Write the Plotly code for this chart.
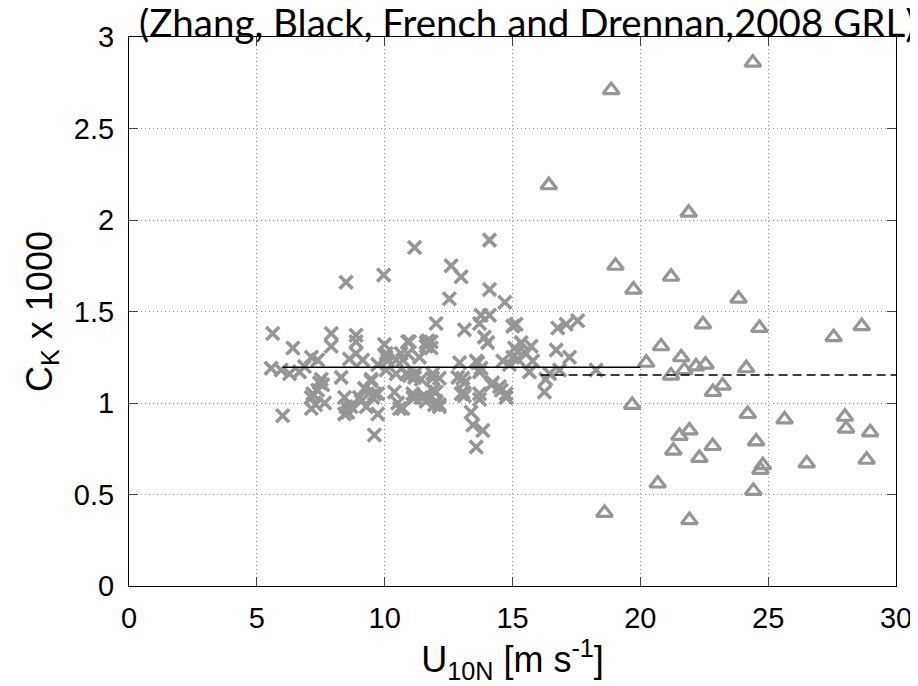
import plotly.graph_objects as go

# Crosses (lower wind speed data)
cross_x = [5.62,5.56,5.95,6.28,6.41,6.67,6.86,6.01,
           7.13,7.38,7.91,7.91,7.52,7.58,7.45,7.38,7.19,7.13,7.65,7.13,7.30,
           8.30,8.43,8.43,8.49,8.49,8.56,8.62,8.88,8.88,8.88,9.14,8.69,9.01,9.08,9.28,9.21,9.47,9.47,9.53,9.60,9.73,9.73,9.60,9.73,
           9.96,9.99,10.06,10.06,10.12,10.06,10.38,10.51,10.45,10.45,10.58,10.64,10.71,10.71,10.84,10.90,10.90,10.97,10.97,11.10,11.10,11.17,11.17,11.17,11.17,11.36,11.43,11.43,11.56,11.62,11.62,11.62,11.69,11.82,11.82,11.88,11.88,11.88,11.95,12.01,12.01,12.01,12.14,12.14,12.14,
           12.53,12.60,12.86,12.93,12.99,12.99,13.06,13.06,13.12,13.12,13.12,13.38,13.45,13.58,13.58,13.64,13.71,13.71,13.71,13.71,13.77,13.77,13.84,13.90,14.03,14.10,14.10,14.10,14.17,14.23,14.49,14.56,14.62,14.70,14.75,14.75,14.88,15.01,15.01,15.08,15.14,15.20,15.20,15.34,15.53,15.66,15.73,15.79,16.25,16.30,16.45,16.71,16.77,16.84,17.10,17.23,17.55,18.27]
cross_y = [1.38,1.19,1.18,1.16,1.30,1.17,1.20,0.93,
           1.25,1.235,1.38,1.31,1.13,1.10,1.11,1.07,1.05,1.03,1.00,0.97,0.99,
           1.14,1.03,0.94,1.66,0.98,0.95,1.24,1.37,1.335,1.27,1.235,0.98,1.03,1.01,0.98,1.08,1.13,1.12,1.03,1.05,1.05,0.94,0.825,1.21,
           1.70,1.32,1.27,1.25,1.23,1.18,1.06,1.00,1.235,1.16,0.97,1.27,1.235,0.97,1.16,1.335,1.27,1.335,1.15,1.05,1.03,1.85,1.16,1.14,1.03,1.25,1.13,1.03,1.04,1.33,1.31,1.01,1.34,1.335,1.30,1.16,1.135,1.07,0.99,1.435,1.06,1.01,1.135,0.99,0.98,
           1.57,1.75,1.14,1.22,1.69,1.05,1.135,1.06,1.40,1.11,1.04,0.95,0.88,1.23,0.76,1.22,1.435,1.17,1.05,1.02,1.48,1.19,0.85,1.36,1.33,1.89,1.62,1.48,1.10,1.11,1.09,1.07,1.23,1.55,1.05,1.03,1.21,1.42,1.25,1.30,1.43,1.28,1.24,1.33,1.27,1.17,1.31,1.23,1.06,1.13,1.16,1.29,1.41,1.18,1.43,1.25,1.45,1.18]

# Triangles (higher wind speed data)
tri_x = [24.40,18.86,16.42,21.89,19.03,21.20,19.73,23.84,22.45,24.66,28.66,27.56,20.81,21.60,20.23,22.18,22.55,21.72,24.14,21.20,
         23.22,22.84,19.68,24.20,25.64,28.00,28.05,28.99,21.92,21.53,22.83,24.53,21.29,22.31,28.85,26.51,24.79,24.70,20.68,24.42,18.60,21.92]
tri_y = [2.86,2.71,2.19,2.04,1.75,1.69,1.62,1.57,1.43,1.41,1.42,1.36,1.31,1.25,1.22,1.20,1.21,1.18,1.19,1.15,
         1.095,1.06,0.99,0.94,0.91,0.925,0.86,0.84,0.85,0.82,0.765,0.79,0.74,0.70,0.69,0.67,0.66,0.635,0.56,0.52,0.40,0.36]

# Mean lines
mean_low_x = [6.0, 20.0]
mean_low_y = [1.195, 1.195]
mean_high_x = [16.1, 30.0]
mean_high_y = [1.153, 1.153]

x_ticks = [0, 5, 10, 15, 20, 25, 30]
y_ticks = [0, 0.5, 1, 1.5, 2, 2.5, 3]
y_tick_labels = ["0", "0.5", "1", "1.5", "2", "2.5", "3"]

gray = "rgb(150,150,150)"
fig = go.Figure()
fig.add_trace(go.Scatter(x=cross_x, y=cross_y, mode="markers",
                         marker=dict(symbol="x-thin-open", size=13, color=gray,
                                     line=dict(color=gray, width=3.6)),
                         showlegend=False))
fig.add_trace(go.Scatter(x=tri_x, y=tri_y, mode="markers",
                         marker=dict(symbol="triangle-up-open", size=14, color=gray,
                                     line=dict(color=gray, width=3.2)),
                         showlegend=False))
fig.add_trace(go.Scatter(x=mean_low_x, y=mean_low_y, mode="lines",
                         line=dict(color="black", width=1.6), showlegend=False))
fig.add_trace(go.Scatter(x=mean_high_x, y=mean_high_y, mode="lines",
                         line=dict(color="black", width=1.6, dash="9px,5px"), showlegend=False))

axis_common = dict(showline=True, linecolor="black", linewidth=1.2, mirror="allticks",
                   ticks="inside", ticklen=9, tickcolor="#444", tickwidth=1,
                   showgrid=True, gridcolor="rgb(140,140,140)", griddash="1px,3px", gridwidth=1,
                   zeroline=False, automargin=False,
                   tickfont=dict(family="Liberation Sans, Arial", size=29, color="black"))

fig.update_xaxes(range=[0, 30], tickvals=x_ticks, ticktext=[str(v) for v in x_ticks],
                 ticklabelstandoff=6,
                 title=dict(text="U<sub>10N</sub> [m s<sup>-1</sup>]",
                            font=dict(family="Liberation Sans, Arial", size=36, color="black"),
                            standoff=8),
                 **axis_common)
fig.update_yaxes(range=[0, 3], tickvals=y_ticks, ticktext=y_tick_labels,
                 ticklabelstandoff=8,
                 title=dict(text="C<sub>K</sub> x 1000",
                            font=dict(family="Liberation Sans, Arial", size=36, color="black"),
                            standoff=10),
                 **axis_common)

fig.add_annotation(text="(Zhang, Black, French and Drennan,2008 GRL)",
                   xref="paper", yref="paper", x=0.01, y=1.0, xanchor="left", yanchor="bottom",
                   yshift=-10, showarrow=False,
                   font=dict(family="Lato", size=38.5, color="black"))

fig.update_layout(width=918, height=686, plot_bgcolor="white", paper_bgcolor="white",
                  margin=dict(l=121, r=30, t=29, b=108), showlegend=False)

fig.write_html("out.html")
